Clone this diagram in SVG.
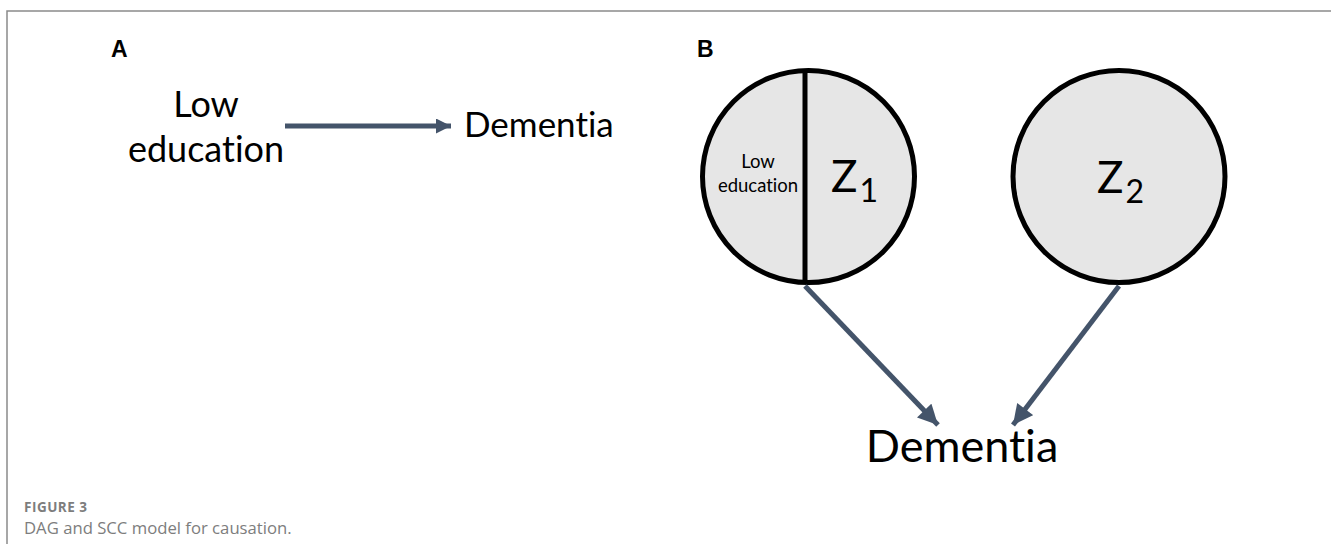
<svg xmlns="http://www.w3.org/2000/svg" width="1331" height="544" viewBox="0 0 1331 544">
<style>
.lbl{font-family:Lato,"Open Sans",sans-serif;fill:#000;font-variant-ligatures:none;font-feature-settings:"liga" 0,"clig" 0}
.pan{font-family:"Liberation Sans",Arial,sans-serif;font-weight:bold;font-size:23px;fill:#000}
.circ{fill:#e6e6e6;stroke:#000;stroke-width:5}
.conn{stroke:#44546a;stroke-width:5;fill:none}
.cap{font-family:"Open Sans",sans-serif;fill:#7d7d7d}
</style>
<defs>
<marker id="ah" viewBox="0 0 10 10" refX="10" refY="5" markerWidth="3.2" markerHeight="3" orient="auto" markerUnits="strokeWidth">
<path d="M0,0 L10,5 L0,10 z" fill="#44546a"/>
</marker>
<marker id="ah2" viewBox="0 0 10 10" refX="10" refY="5" markerWidth="4.2" markerHeight="4" orient="auto" markerUnits="strokeWidth">
<path d="M0,0 L10,5 L0,10 z" fill="#44546a"/>
</marker>
</defs>
<rect width="1331" height="544" fill="#fff"/>
<path d="M7,544 V11 H1331" fill="none" stroke="#8a8a8a" stroke-width="1.5"/>
<text class="pan" x="111" y="57">A</text>
<text class="pan" x="697" y="57">B</text>
<g id="lowedu">
<text class="lbl" font-size="36" x="206" y="117" text-anchor="middle">Low</text>
<text class="lbl" font-size="36" x="206" y="162" text-anchor="middle">education</text>
</g>
<g id="dementiaA">
<text class="lbl" font-size="35" x="464" y="137">Dementia</text>
</g>
<g id="z1">
<circle class="circ" cx="808.5" cy="176.5" r="106"/>
<line x1="805" y1="72" x2="805" y2="284" stroke="#000" stroke-width="5"/>
<text class="lbl" font-size="18.5" x="758" y="168" text-anchor="middle">Low</text>
<text class="lbl" font-size="18.5" x="758" y="192" text-anchor="middle">education</text>
<text class="lbl" font-size="44" x="831" y="192">Z<tspan font-size="32" dy="10" dx="2">1</tspan></text>
</g>
<g id="z2">
<circle class="circ" cx="1119" cy="176.5" r="106"/>
<text class="lbl" font-size="44" x="1097" y="193">Z<tspan font-size="32" dy="10" dx="2">2</tspan></text>
</g>
<g id="dementiaB">
<text class="lbl" font-size="45" x="962" y="462" text-anchor="middle">Dementia</text>
</g>
<g id="connectors">
<line class="conn" x1="285" y1="126" x2="451" y2="126" marker-end="url(#ah)"/>
<line class="conn" x1="805" y1="286" x2="938" y2="425" marker-end="url(#ah2)"/>
<line class="conn" x1="1119" y1="286" x2="1013" y2="425" marker-end="url(#ah2)"/>
</g>
<text class="cap" font-size="13.5" font-weight="bold" letter-spacing="0.5" x="24" y="512">FIGURE 3</text>
<text class="cap" font-size="16.7" x="24" y="534">DAG and SCC model for causation.</text>
</svg>
